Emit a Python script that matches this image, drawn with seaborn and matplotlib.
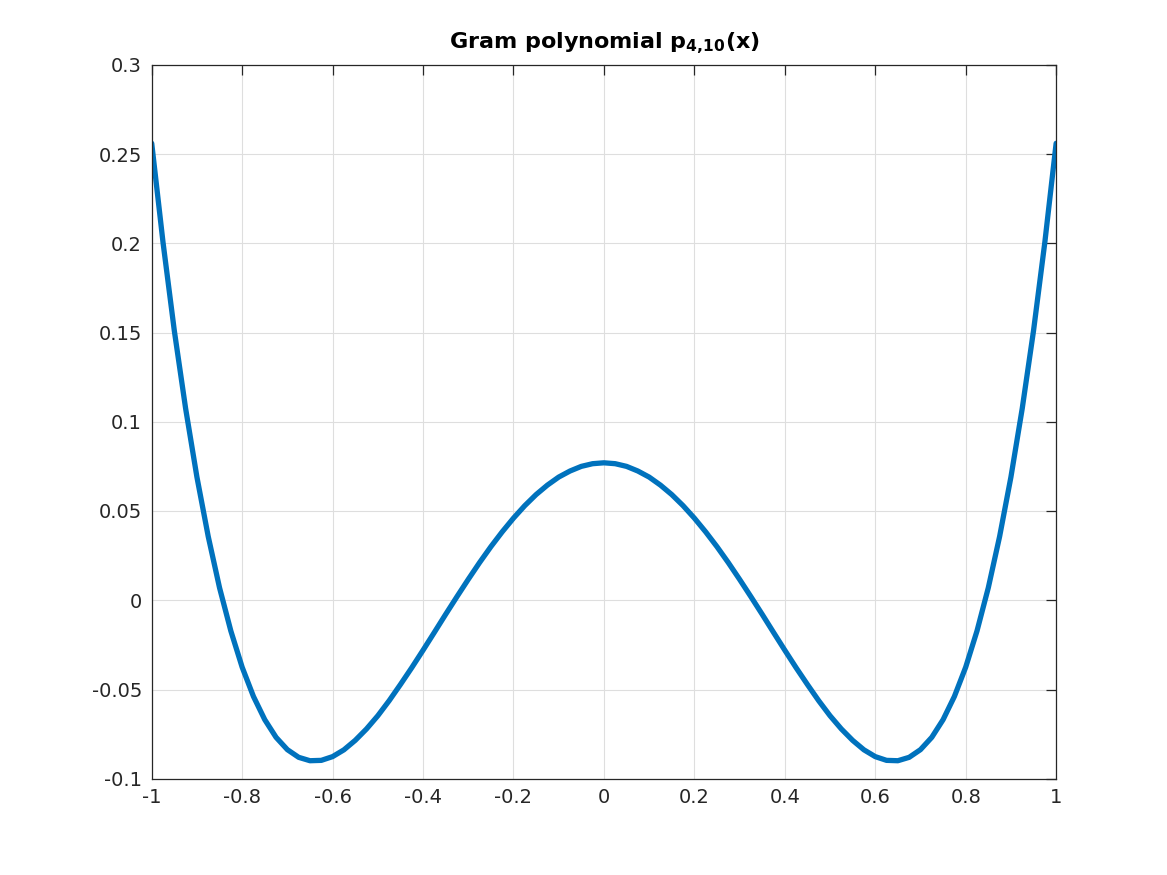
import numpy as np
import pandas as pd
import seaborn as sns
import matplotlib
matplotlib.use("Agg")
import matplotlib.pyplot as plt

# values, x step 0.025
x_vals = [-1.0, -0.975, -0.95, -0.925, -0.9, -0.875, -0.85, -0.825, -0.8, -0.775,
          -0.75, -0.725, -0.7, -0.675, -0.65, -0.625, -0.6, -0.575, -0.55, -0.525,
          -0.5, -0.475, -0.45, -0.425, -0.4, -0.375, -0.35, -0.325, -0.3, -0.275,
          -0.25, -0.225, -0.2, -0.175, -0.15, -0.125, -0.1, -0.075, -0.05, -0.025,
          0.0,
          0.025, 0.05, 0.075, 0.1, 0.125, 0.15, 0.175, 0.2, 0.225, 0.25,
          0.275, 0.3, 0.325, 0.35, 0.375, 0.4, 0.425, 0.45, 0.475, 0.5,
          0.525, 0.55, 0.575, 0.6, 0.625, 0.65, 0.675, 0.7, 0.725, 0.75,
          0.775, 0.8, 0.825, 0.85, 0.875, 0.9, 0.925, 0.95, 0.975, 1.0]
y_vals = [0.256, 0.2005, 0.151, 0.1074, 0.069, 0.0357, 0.007, -0.0172, -0.0375, -0.0539,
          -0.0669, -0.0768, -0.0837, -0.0880, -0.0899, -0.0897, -0.0876, -0.0838, -0.0785, -0.0721,
          -0.0647, -0.0563, -0.0472, -0.0378, -0.028, -0.018, -0.0079, 0.002, 0.0117, 0.0211,
          0.030, 0.0383, 0.046, 0.053, 0.0592, 0.0645, 0.069, 0.0724, 0.075, 0.0765,
          0.077,
          0.0765, 0.075, 0.0724, 0.069, 0.0645, 0.0592, 0.053, 0.046, 0.0383, 0.030,
          0.0211, 0.0117, 0.002, -0.0079, -0.018, -0.028, -0.0378, -0.0472, -0.0563, -0.0647,
          -0.0721, -0.0785, -0.0838, -0.0876, -0.0897, -0.0899, -0.0880, -0.0837, -0.0768, -0.0669,
          -0.0539, -0.0375, -0.0172, 0.007, 0.0357, 0.069, 0.1074, 0.151, 0.2005, 0.256]
x_ticks = [-1, -0.8, -0.6, -0.4, -0.2, 0, 0.2, 0.4, 0.6, 0.8, 1]
x_labels = ["-1", "-0.8", "-0.6", "-0.4", "-0.2", "0", "0.2", "0.4", "0.6", "0.8", "1"]
y_ticks = [-0.1, -0.05, 0, 0.05, 0.1, 0.15, 0.2, 0.25, 0.3]
y_labels = ["-0.1", "-0.05", "0", "0.05", "0.1", "0.15", "0.2", "0.25", "0.3"]

df = pd.DataFrame({"x": x_vals, "y": y_vals})

sns.set_theme(style="white")
plt.rcParams["font.family"] = ["DejaVu Sans"]
plt.rcParams["mathtext.fontset"] = "dejavusans"

fig = plt.figure(figsize=(11.67, 8.75), dpi=100)
ax = fig.add_axes([0.13, 0.11, 0.775, 0.816])

sns.lineplot(data=df, x="x", y="y", ax=ax, color="#0072BD", linewidth=3.8,
             estimator=None, sort=False)

ax.set_xlim(-1, 1)
ax.set_ylim(-0.1, 0.3)
ax.set_xticks(x_ticks)
ax.set_xticklabels(x_labels)
ax.set_yticks(y_ticks)
ax.set_yticklabels(y_labels)
ax.set_xlabel("")
ax.set_ylabel("")

ax.grid(True, color="#dedede", linewidth=0.8)
ax.set_axisbelow(True)
for s in ax.spines.values():
    s.set_color("#262626")
    s.set_linewidth(0.9)
ax.tick_params(direction="in", length=7, width=0.9, colors="#262626",
               labelsize=14, top=True, right=True, pad=7)
for lab in ax.get_xticklabels() + ax.get_yticklabels():
    lab.set_color("#262626")

ax.set_title(r"Gram polynomial $\mathbf{p_{4{,}10}}$(x)", fontsize=16,
             fontweight="bold", pad=12, color="black")

fig.savefig("out.png", dpi=100)
